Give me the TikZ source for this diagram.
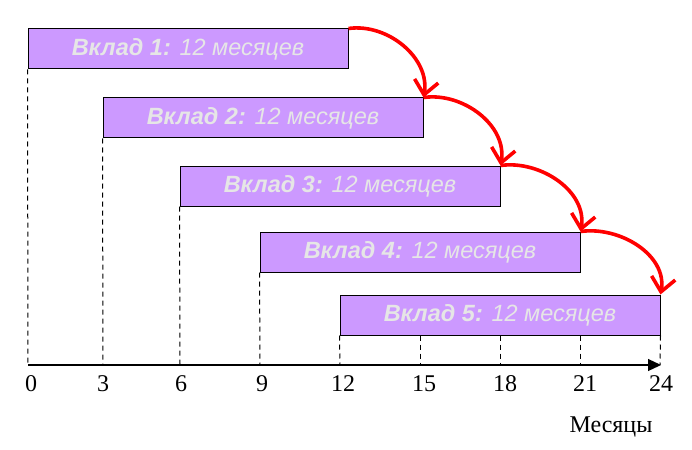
\documentclass[tikz,border=0pt]{standalone}
\usepackage{fontspec}
\setmainfont{Liberation Serif}
\newfontfamily\arialf{Liberation Sans}
\usetikzlibrary{arrows.meta}
\definecolor{boxfill}{HTML}{CC99FF}
\definecolor{boxtext}{HTML}{E6E6E6}
\tikzset{
  term/.style={draw=black, line width=1pt, fill=boxfill, minimum width=320pt, minimum height=40pt,
    inner sep=0pt, font=\arialf\fontsize{23.5}{26}\selectfont\itshape, text=boxtext},
  guide/.style={draw=black, line width=1pt, dash pattern=on 5pt off 4pt},
  hop/.style={draw=red, line width=3.6pt, -{Straight Barb[length=14pt,width=24pt,line width=3.6pt]}},
  ticklab/.style={font=\fontsize{24}{26}\selectfont, anchor=north}
}
\begin{document}
\begin{tikzpicture}[x=1pt,y=-1pt]
\useasboundingbox (0,0) rectangle (692,449);
% boxes
\node[term] (b1) at (188,49) {\textbf{Вклад 1:} 12 месяцев};
\node[term] (b2) at (263,118) {\textbf{Вклад 2:} 12 месяцев};
\node[term] (b3) at (340,186) {\textbf{Вклад 3:} 12 месяцев};
\node[term] (b4) at (420,252) {\textbf{Вклад 4:} 12 месяцев};
\node[term] (b5) at (500,315) {\textbf{Вклад 5:} 12 месяцев};
% axis
\coordinate (a0) at (28,365);
\coordinate (a24) at (661,365);
\draw[line width=1.2pt, -{Triangle[length=13pt,width=12pt]}] (a0) -- (a24);
% axis tick coordinates
\coordinate (t3) at (103,365);
\coordinate (t6) at (180,365);
\coordinate (t9) at (260,365);
\coordinate (t12) at (340,365);
\coordinate (t15) at (420,365);
\coordinate (t18) at (500,365);
\coordinate (t21) at (580,365);
\coordinate (t24) at (660,365);
% guides
\draw[guide] (b1.south west) -- (a0);
\draw[guide] (b2.south west) -- (t3);
\draw[guide] (b3.south west) -- (t6);
\draw[guide] (b4.south west) -- (t9);
\draw[guide] (b5.south west) -- (t12);
\draw[guide] (b5.south -| t15) -- (t15);
\draw[guide] (b5.south -| t18) -- (t18);
\draw[guide] (b5.south -| t21) -- (t21);
\draw[guide] (b5.south east) -- (t24);
% labels
\node[ticklab] (l0) at (31,372) {0};
\node[ticklab] (l3) at (103,372) {3};
\node[ticklab] (l6) at (181,372) {6};
\node[ticklab] (l9) at (262,372) {9};
\node[ticklab] (l12) at (343,372) {12};
\node[ticklab] (l15) at (424,372) {15};
\node[ticklab] (l18) at (505,372) {18};
\node[ticklab] (l21) at (585,372) {21};
\node[ticklab] (l24) at (661,372) {24};
\node[ticklab] (mes) at (611,413) {Месяцы};
% hops
\draw[hop] (b1.north east) to[out=8,in=80] (b2.north east);
\draw[hop] (b2.north east) to[out=8,in=80] (b3.north east);
\draw[hop] (b3.north east) to[out=8,in=80] (b4.north east);
\draw[hop] (b4.north east) to[out=8,in=80] (b5.north east);
\end{tikzpicture}
\end{document}
